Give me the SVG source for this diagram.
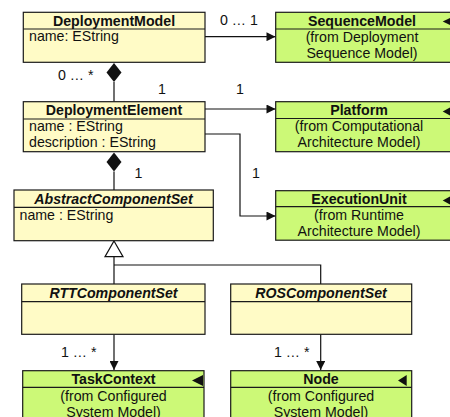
<svg xmlns="http://www.w3.org/2000/svg" width="450" height="417" viewBox="0 0 450 417">
<defs>
<style>
text{font-family:"Liberation Sans",Arial,sans-serif;font-size:14.2px;fill:#111}
.h{font-weight:bold;text-anchor:middle}
.hi{font-weight:bold;font-style:italic;text-anchor:middle}
.c{text-anchor:middle}
.y{fill:#FFFBC6;stroke:#1a1a1a;stroke-width:1.2}
.g{fill:#CCF977;stroke:#1a1a1a;stroke-width:1.2}
.d{stroke:#1a1a1a;stroke-width:1.2;fill:none}
.ln{stroke:#111;stroke-width:1.2;fill:none}
.tri{fill:#111}
</style>
<marker id="arr" viewBox="0 0 10 10" refX="10" refY="5" markerWidth="10" markerHeight="9" markerUnits="userSpaceOnUse" orient="auto">
<path d="M0,0 L10,5 L0,10 z" fill="#111"/>
</marker>
</defs>

<g id="connectors">
<path class="ln" d="M205,36.7 H275.5" marker-end="url(#arr)"/>
<path class="ln" d="M114,82 V101.7"/>
<polygon points="114,63 121.5,72.5 114,82 106.5,72.5" fill="#111"/>
<path class="ln" d="M205,109 H275.5" marker-end="url(#arr)"/>
<path class="ln" d="M205,134 H240 V216 H275.5" marker-end="url(#arr)"/>
<path class="ln" d="M114,171.5 V190"/>
<polygon points="114,152.5 121.5,162 114,171.5 106.5,162" fill="#111"/>
<polygon points="114,241 123,256.7 105,256.7" fill="#fff" stroke="#111" stroke-width="1.2"/>
<path class="ln" d="M114,256.7 V284 M114,265 H320.7 V284"/>
<path class="ln" d="M114,334.3 V370" marker-end="url(#arr)"/>
<path class="ln" d="M320.7,334.3 V370" marker-end="url(#arr)"/>
<text x="220" y="25">0 … 1</text>
<text x="58" y="80">0 … *</text>
<text x="158" y="93.5">1</text>
<text x="236" y="93.5">1</text>
<text x="134.5" y="178">1</text>
<text x="252" y="178">1</text>
<text x="61" y="357">1 … *</text>
<text x="274" y="357">1 … *</text>
</g>

<g id="DeploymentModel">
<rect class="y" x="23.3" y="12.3" width="181.7" height="50"/>
<path class="d" d="M23.3,29 H205"/>
<text class="h" x="114" y="25.5">DeploymentModel</text>
<text x="29" y="40.5">name: EString</text>
</g>

<g id="SequenceModel">
<rect class="g" x="275.7" y="12.3" width="180" height="50"/>
<path class="d" d="M275.7,29 H455"/>
<text class="h" x="362" y="25.5">SequenceModel</text>
<text class="c" x="362" y="41.5">(from Deployment</text>
<text class="c" x="362" y="57.5">Sequence Model)</text>
<polygon class="tri" points="442.7,21.5 451,17.5 451,25.5"/>
</g>

<g id="DeploymentElement">
<rect class="y" x="23.3" y="101.7" width="181.7" height="50"/>
<path class="d" d="M23.3,119 H205"/>
<text class="h" x="114" y="114.5">DeploymentElement</text>
<text x="29" y="131">name : EString</text>
<text x="29" y="147">description : EString</text>
</g>

<g id="Platform">
<rect class="g" x="275.7" y="101.7" width="180" height="50"/>
<path class="d" d="M275.7,118.5 H455"/>
<text class="h" x="359" y="114.5">Platform</text>
<text class="c" x="359" y="131">(from Computational</text>
<text class="c" x="359" y="147">Architecture Model)</text>
<polygon class="tri" points="442.7,111.5 451,107 451,116"/>
</g>

<g id="ExecutionUnit">
<rect class="g" x="275.7" y="190.7" width="180" height="49.5"/>
<path class="d" d="M275.7,206.7 H455"/>
<text class="h" x="359" y="203.5">ExecutionUnit</text>
<text class="c" x="359" y="220">(from Runtime</text>
<text class="c" x="359" y="236">Architecture Model)</text>
<polygon class="tri" points="442.7,200.5 451,196 451,205"/>
</g>

<g id="AbstractComponentSet">
<rect class="y" x="14" y="190" width="199.3" height="50.7"/>
<path class="d" d="M14,207.3 H213.3"/>
<text class="hi" x="113.5" y="203.5">AbstractComponentSet</text>
<text x="19.5" y="219.5">name : EString</text>
</g>

<g id="RTTComponentSet">
<rect class="y" x="21.7" y="284" width="183.3" height="50.3"/>
<path class="d" d="M21.7,301.7 H205"/>
<text class="hi" x="113.5" y="297.5">RTTComponentSet</text>
</g>

<g id="ROSComponentSet">
<rect class="y" x="230.7" y="284" width="181" height="50.3"/>
<path class="d" d="M230.7,301.7 H411.7"/>
<text class="hi" x="321" y="297.5">ROSComponentSet</text>
</g>

<g id="TaskContext">
<rect class="g" x="22.7" y="370.7" width="181.3" height="60"/>
<path class="d" d="M22.7,387.3 H204"/>
<text class="h" x="113.5" y="384">TaskContext</text>
<text class="c" x="113.5" y="400.5">(from Configured</text>
<text class="c" x="113.5" y="416.5">System Model)</text>
<polygon class="tri" points="192,380.5 203,375 203,386"/>
</g>

<g id="Node">
<rect class="g" x="230.7" y="370.7" width="181" height="60"/>
<path class="d" d="M230.7,387.3 H411.7"/>
<text class="h" x="321" y="384">Node</text>
<text class="c" x="321" y="400.5">(from Configured</text>
<text class="c" x="321" y="416.5">System Model)</text>
<polygon class="tri" points="398,380.5 406.7,375 406.7,386"/>
</g>
</svg>
